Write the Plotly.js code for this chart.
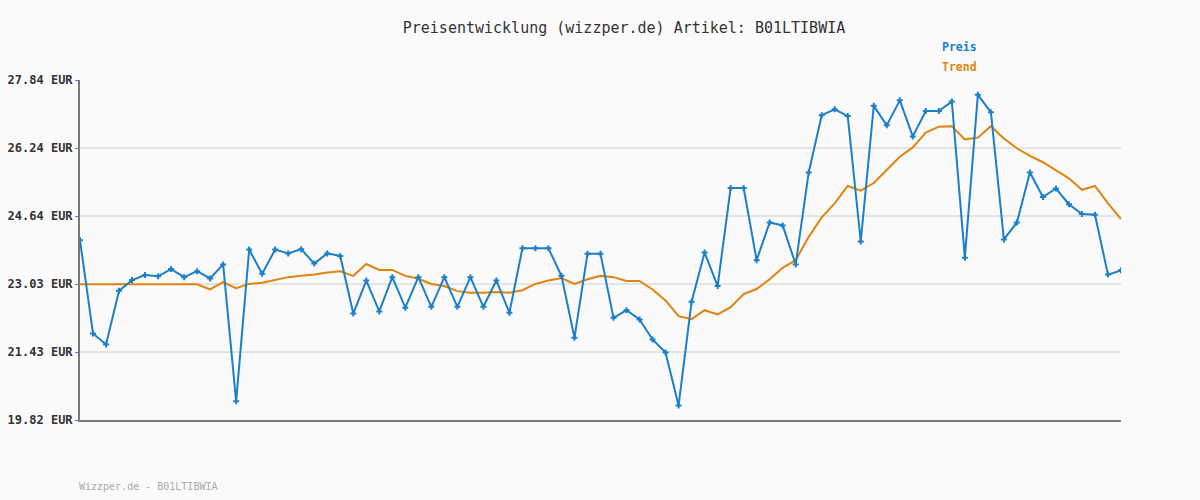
<!DOCTYPE html>
<html>
<head>
<meta charset="utf-8">
<script src="https://cdn.plot.ly/plotly-3.0.1.min.js"></script>
<style>
html,body{margin:0;padding:0;background:#fafafa;}
#chart{width:1200px;height:500px;}
</style>
</head>
<body>
<div id="chart"></div>
<script>
const preis = [24.06, 21.86, 21.60, 22.87, 23.12, 23.24, 23.21, 23.38, 23.19, 23.33,
  23.16, 23.49, 20.26, 23.84, 23.27, 23.84, 23.75, 23.85, 23.51, 23.75,
  23.69, 22.33, 23.11, 22.38, 23.19, 22.47, 23.19, 22.49, 23.19, 22.49,
  23.19, 22.49, 23.11, 22.35, 23.87, 23.87, 23.87, 23.22, 21.76, 23.74,
  23.74, 22.23, 22.41, 22.19, 21.72, 21.41, 20.16, 22.61, 23.77, 22.98,
  25.29, 25.29, 23.59, 24.48, 24.41, 23.49, 25.66, 27.01, 27.15, 26.99,
  24.03, 27.23, 26.77, 27.36, 26.51, 27.11, 27.11, 27.33, 23.65, 27.49,
  27.08, 24.08, 24.48, 25.66, 25.08, 25.28, 24.91, 24.68, 24.66, 23.25,
  23.35];
const trend = [23.02, 23.02, 23.02, 23.02, 23.02, 23.02, 23.02, 23.02, 23.02, 23.02,
  22.90, 23.07, 22.93, 23.03, 23.06, 23.13, 23.19, 23.22, 23.25, 23.30,
  23.33, 23.22, 23.50, 23.36, 23.36, 23.22, 23.15, 23.03, 22.98, 22.86,
  22.82, 22.82, 22.84, 22.82, 22.88, 23.03, 23.11, 23.17, 23.03, 23.14,
  23.22, 23.19, 23.10, 23.10, 22.90, 22.64, 22.27, 22.20, 22.41, 22.31,
  22.48, 22.79, 22.91, 23.14, 23.41, 23.59, 24.14, 24.60, 24.93, 25.34,
  25.23, 25.41, 25.73, 26.03, 26.25, 26.60, 26.74, 26.75, 26.44, 26.48,
  26.75, 26.46, 26.23, 26.05, 25.90, 25.72, 25.52, 25.25, 25.34, 24.93,
  24.56];
const tickValues = [19.82, 21.424, 23.028, 24.632, 26.236, 27.84];
const tickLabels = ["19.82 EUR", "21.43 EUR", "23.03 EUR", "24.64 EUR", "26.24 EUR", "27.84 EUR"];
const seriesNames = ["Preis", "Trend"];
const titleText = "Preisentwicklung (wizzper.de) Artikel: B01LTIBWIA";
const footerText = "Wizzper.de - B01LTIBWIA";

const xs = preis.map((_, i) => i);
const mono = "DejaVu Sans Mono, monospace";
const blue = "#1b7fca";
const orange = "#e0830f";

const traces = [
  {x: xs, y: trend, type: "scatter", mode: "lines", name: seriesNames[1],
   line: {color: orange, width: 2}, hoverinfo: "skip"},
  {x: xs, y: preis, type: "scatter", mode: "lines+markers", name: seriesNames[0],
   line: {color: blue, width: 2},
   marker: {symbol: "cross", size: 5, color: blue, line: {width: 0}}}
];

const layout = {
  width: 1200, height: 500,
  paper_bgcolor: "#fafafa", plot_bgcolor: "#fafafa",
  margin: {l: 80, r: 79, t: 80, b: 80},
  showlegend: false,
  title: {text: titleText, x: 0.52, xanchor: "center", y: 0.944, yanchor: "middle",
          font: {family: mono, size: 15, color: "#333"}},
  xaxis: {range: [0, preis.length - 1], showgrid: false, zeroline: false,
          showticklabels: false, ticks: "", showline: true, linecolor: "#7a7a7a", linewidth: 2},
  yaxis: {range: [19.82, 27.84], tickvals: tickValues, ticktext: tickLabels,
          showgrid: true, gridcolor: "#e4e4e4", gridwidth: 2, zeroline: false,
          showline: true, linecolor: "#7a7a7a", linewidth: 2,
          ticks: "outside", ticklen: 3, tickcolor: "#7a7a7a", tickwidth: 1,
          tickfont: {family: mono, size: 12, color: "#333", weight: "bold"}},
  annotations: [
    {text: seriesNames[0], xref: "paper", yref: "paper", x: 0.826, y: 1.097,
     xanchor: "left", yanchor: "middle", showarrow: false,
     font: {family: mono, size: 11.5, color: blue, weight: "bold"}},
    {text: seriesNames[1], xref: "paper", yref: "paper", x: 0.826, y: 1.038,
     xanchor: "left", yanchor: "middle", showarrow: false,
     font: {family: mono, size: 11.5, color: orange, weight: "bold"}},
    {text: footerText, xref: "paper", yref: "paper", x: -0.003, y: -0.197,
     xanchor: "left", yanchor: "middle", showarrow: false,
     font: {family: mono, size: 10, color: "#aaaaaa"}}
  ]
};

Plotly.newPlot("chart", traces, layout, {displayModeBar: false, staticPlot: true});
</script>
</body>
</html>
